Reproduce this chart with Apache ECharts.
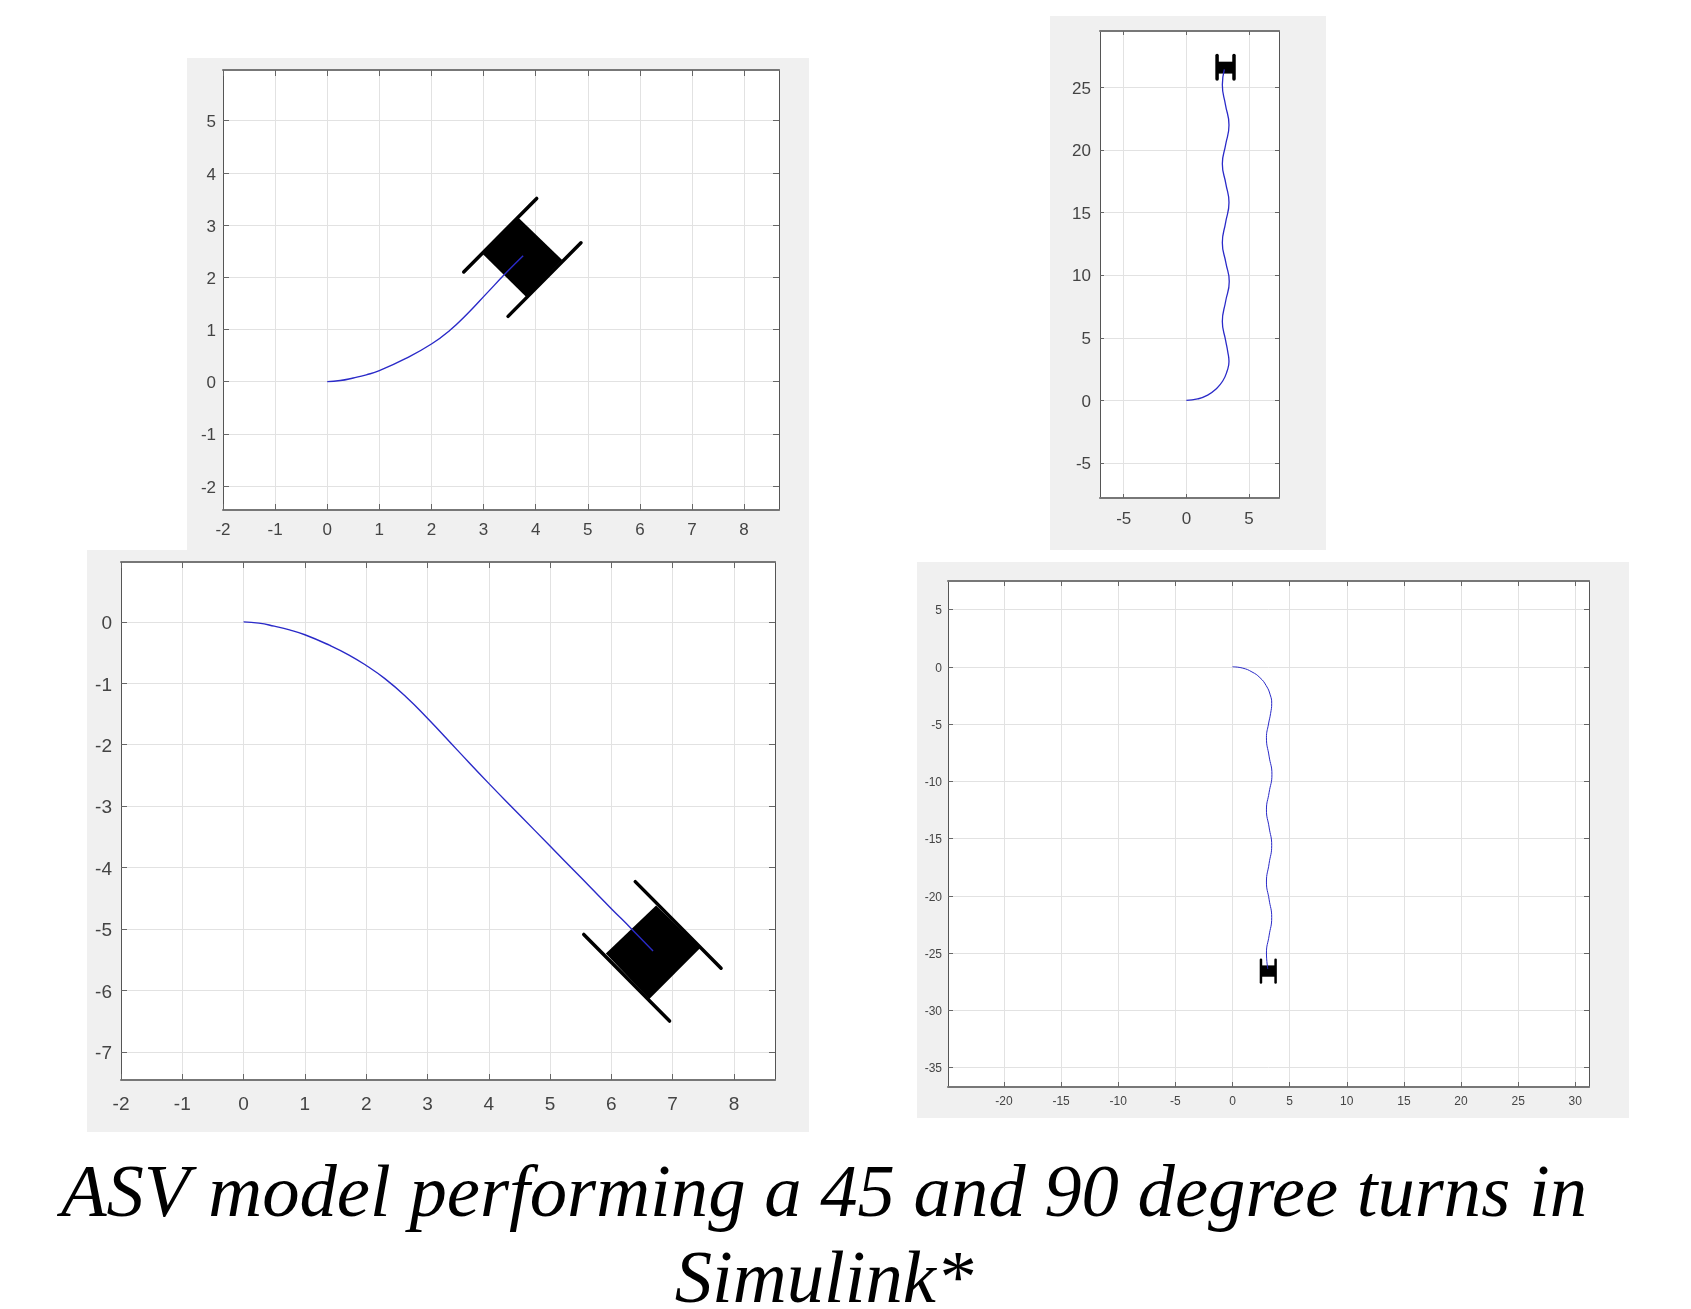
<!DOCTYPE html>
<html>
<head>
<meta charset="utf-8">
<style>html,body{margin:0;padding:0;background:#fff}#chart{width:1691px;height:1309px}</style>
<script src="https://cdn.jsdelivr.net/npm/echarts@6/dist/echarts.min.js"></script>
</head>
<body>
<div id="chart"></div>
<script>
// Panel 1: 45 degree turn, upward
const xTicks1 = [-2,-1,0,1,2,3,4,5,6,7,8];
const yTicks1 = [-2,-1,0,1,2,3,4,5];
const path1 = [[0,0],[0.25,0.02],[0.5,0.07],[0.75,0.13],[1,0.21],[1.5,0.44],[2,0.72],[2.35,0.98],[2.7,1.31],[3.06,1.69],[3.41,2.06],[3.76,2.41]];
const body1 = [[3.67,3.14],[4.51,2.33],[3.82,1.62],[2.98,2.45]];
const trackA1 = [[2.62,2.10],[4.02,3.51]];
const trackB1 = [[3.47,1.25],[4.87,2.66]];
// Panel 2: 45 degree turn, downward
const xTicks2 = [-2,-1,0,1,2,3,4,5,6,7,8];
const yTicks2 = [-7,-6,-5,-4,-3,-2,-1,0];
const path2 = [[0,0],[0.25,-0.02],[0.5,-0.07],[0.75,-0.13],[1,-0.21],[1.4,-0.38],[1.72,-0.54],[2,-0.71],[2.3,-0.92],[2.64,-1.21],[3,-1.57],[3.48,-2.08],[4,-2.63],[4.5,-3.14],[5,-3.65],[5.5,-4.16],[6,-4.67],[6.33,-5.0],[6.68,-5.36]];
const body2 = [[6.73,-4.62],[7.45,-5.31],[6.62,-6.14],[5.91,-5.40]];
const trackA2 = [[6.39,-4.23],[7.79,-5.64]];
const trackB2 = [[5.55,-5.09],[6.95,-6.50]];
// Panel 3: 90 degree turn, upward
const xTicks3 = [-5,0,5];
const yTicks3 = [-5,0,5,10,15,20,25];
const path3 = [[0,0],[0.9,0.12],[1.7,0.42],[2.35,0.9],[2.9,1.55],[3.25,2.35],[3.4,3.1],[3.3,3.9],[3.13,4.8],[2.87,6.3],[3.13,7.9],[3.42,9.5],[3.15,11.0],[2.87,12.6],[3.13,14.2],[3.40,15.8],[3.15,17.3],[2.87,18.9],[3.13,20.4],[3.40,22.0],[3.12,23.6],[2.87,25.2],[3.03,26.44]];
const body3 = [[2.45,27.05],[3.80,27.05],[3.80,26.1],[2.45,26.1]];
const trackA3 = [[2.45,27.55],[2.45,25.67]];
const trackB3 = [[3.80,27.55],[3.80,25.67]];
// Panel 4: 90 degree turn, downward
const xTicks4 = [-20,-15,-10,-5,0,5,10,15,20,25,30];
const yTicks4 = [-35,-30,-25,-20,-15,-10,-5,0,5];
const path4 = [[0,0],[0.9,-0.12],[1.7,-0.45],[2.4,-0.95],[2.95,-1.65],[3.3,-2.45],[3.43,-3.2],[3.33,-4.1],[3.15,-5.0],[2.97,-6.2],[3.2,-7.8],[3.45,-9.4],[3.2,-11.0],[2.97,-12.5],[3.2,-14.0],[3.43,-15.6],[3.2,-17.2],[2.97,-18.8],[3.2,-20.3],[3.43,-21.9],[3.2,-23.5],[2.97,-25.0],[3.09,-26.4]];
const body4 = [[2.49,-26.08],[3.77,-26.08],[3.77,-27.07],[2.49,-27.07]];
const trackA4 = [[2.49,-25.58],[2.49,-27.57]];
const trackB4 = [[3.77,-25.58],[3.77,-27.57]];

const captionText = 'ASV model performing a 45 and 90 degree turns in\nSimulink*';

const panels = [
  {bg:[187,58,622,492], box:[223,70,556,440], xr:[-2,8.67], yr:[-2.46,5.97], xt:xTicks1, yt:yTicks1, fs:17, xm:12, ym:7, shift:2, tl:6, lw:1.4, path:path1, body:body1, a:trackA1, b:trackB1, tw:3.5},
  {bg:[87,550,722,582], box:[121,562,654,518], xr:[-2,8.67], yr:[-7.46,0.975], xt:xTicks2, yt:yTicks2, fs:19, xm:15, ym:9, shift:2, tl:6, lw:1.4, path:path2, body:body2, a:trackA2, b:trackB2, tw:3.5},
  {bg:[1050,16,276,534], box:[1100,31,179,467], xr:[-6.89,7.39], yr:[-7.79,29.5], xt:xTicks3, yt:yTicks3, fs:17, xm:13, ym:9, shift:1.5, tl:4, lw:1.3, path:path3, body:body3, a:trackA3, b:trackB3, tw:3.5},
  {bg:[917,562,712,556], box:[948,581,641,506], xr:[-24.9,31.2], yr:[-36.7,7.49], xt:xTicks4, yt:yTicks4, fs:12, xm:9, ym:6, shift:1.5, tl:5, lw:1, path:path4, body:body4, a:trackA4, b:trackB4, tw:2.5}
];

const grid = [], xAxis = [], yAxis = [], series = [], graphic = [];
const gridLine = {show:true, lineStyle:{color:'#e2e2e2', width:1}};
const frameH = {show:true, onZero:false, lineStyle:{color:'#777', width:2}};
const frameV = {show:true, onZero:false, lineStyle:{color:'#555', width:1}};

panels.forEach((p, i) => {
  graphic.push({type:'rect', z:-100, shape:{x:p.bg[0], y:p.bg[1], width:p.bg[2], height:p.bg[3]}, style:{fill:'#f0f0f0'}});
  grid.push({left:p.box[0], top:p.box[1], width:p.box[2], height:p.box[3], show:true, backgroundColor:'#fff', borderWidth:0, containLabel:false});
  const tick = vals => ({show:true, inside:true, length:p.tl, customValues:vals, lineStyle:{color:'#666', width:1}});
  const label = (vals, m) => ({show:true, customValues:vals, margin:m, fontFamily:'"Liberation Sans",Arial,sans-serif', fontSize:p.fs, color:'#444', hideOverlap:false, showMinLabel:true, showMaxLabel:true});
  xAxis.push({type:'value', gridIndex:i, position:'bottom', min:p.xr[0], max:p.xr[1], axisLine:frameH, axisTick:tick(p.xt), axisLabel:label(p.xt, p.xm), splitLine:gridLine});
  xAxis.push({type:'value', gridIndex:i, position:'top', min:p.xr[0], max:p.xr[1], axisLine:frameH, axisTick:tick(p.xt), axisLabel:{show:false}, splitLine:{show:false}});
  yAxis.push({type:'value', gridIndex:i, position:'left', min:p.yr[0], max:p.yr[1], axisLine:frameV, axisTick:tick(p.yt),
    axisLabel:Object.assign(label(p.yt, p.ym), {verticalAlign:'top', lineHeight:2*p.shift}), splitLine:gridLine});
  yAxis.push({type:'value', gridIndex:i, position:'right', min:p.yr[0], max:p.yr[1], axisLine:frameV, axisTick:tick(p.yt), axisLabel:{show:false}, splitLine:{show:false}});
  const xi = i*2, yi = i*2;
  series.push({type:'custom', xAxisIndex:xi, yAxisIndex:yi, data:p.body, encode:{x:0,y:1}, z:3, silent:true, animation:false,
    renderItem:(params, api) => params.dataIndex === 0 ? {type:'polygon', shape:{points:p.body.map(v => api.coord(v))}, style:{fill:'#000'}} : null});
  [p.a, p.b].forEach(t => series.push({type:'line', xAxisIndex:xi, yAxisIndex:yi, data:t, symbol:'none', z:3, silent:true, animation:false, lineStyle:{color:'#000', width:p.tw, cap:'round'}}));
  series.push({type:'line', xAxisIndex:xi, yAxisIndex:yi, data:p.path, symbol:'none', smooth:0.5, z:4, silent:true, animation:false, lineStyle:{color:'#2a2ac8', width:p.lw}});
});

const chart = echarts.init(document.getElementById('chart'), null, {renderer:'canvas'});
chart.setOption({
  backgroundColor:'#fff',
  animation:false,
  title:{text:captionText, left:819, top:1148, textAlign:'center', textStyle:{fontFamily:'"Liberation Serif",serif', fontStyle:'italic', fontWeight:'normal', fontSize:74.7, lineHeight:86, color:'#000'}},
  grid, xAxis, yAxis, series, graphic
});
</script>
</body>
</html>
